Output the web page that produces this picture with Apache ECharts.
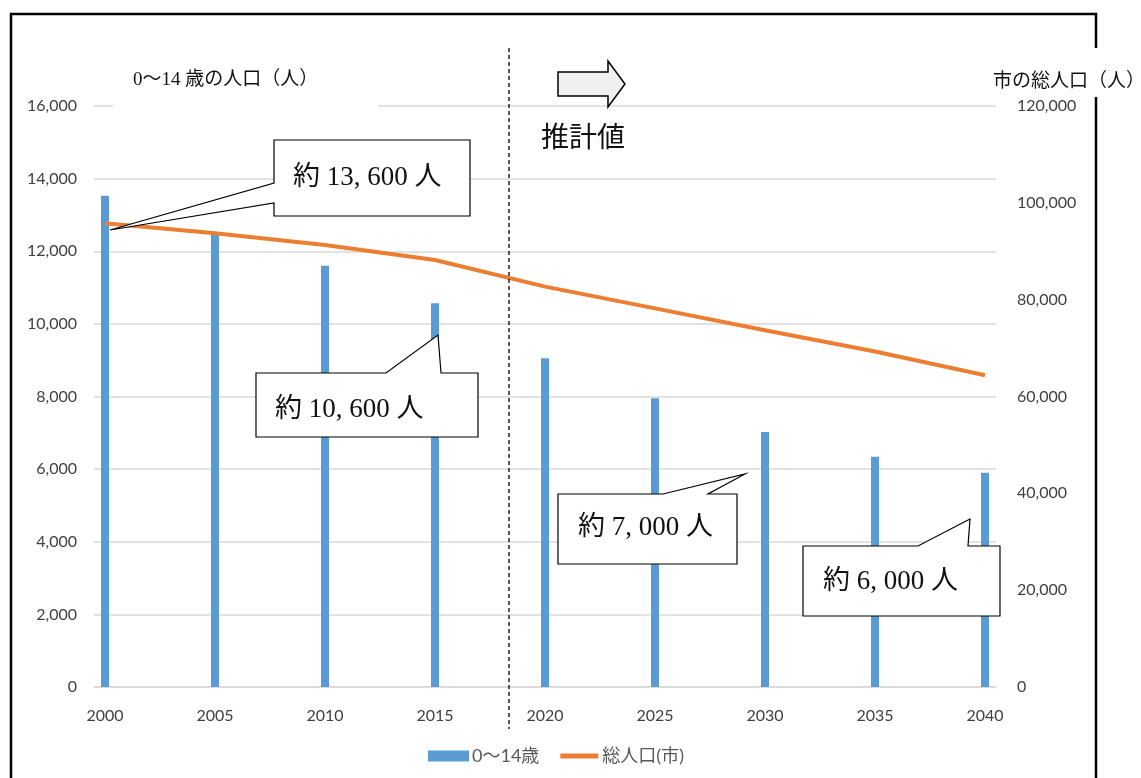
<!DOCTYPE html>
<html>
<head>
<meta charset="utf-8">
<script src="https://cdn.jsdelivr.net/npm/echarts@6.0.0/dist/echarts.min.js"></script>
<style>
  html, body { margin: 0; padding: 0; background: #fff; }
  #chart { width: 1141px; height: 778px; }
</style>
</head>
<body>
<div id="chart"></div>
<script>
// census / projection years (bars + line points)
const pointYears = [2000, 2005, 2010, 2015, 2020, 2025, 2030, 2035, 2040];
const children = [13530, 12500, 11600, 10570, 9050, 7950, 7020, 6340, 5900];
const totalPop = [95800, 93700, 91300, 88200, 82700, 78200, 73700, 69300, 64400];
const leftTicks = [0, 16000, 2000];
const rightTicks = [0, 120000, 20000];

// yearly category axis 2000..2040
const years = [];
for (let y = 2000; y <= 2040; y++) years.push(String(y));

const barData = years.map((y) => {
  const i = pointYears.indexOf(+y);
  return i >= 0 ? children[i] : null;
});
const lineData = years.map((y) => {
  const i = pointYears.indexOf(+y);
  return i >= 0 ? totalPop[i] : null;
});

const axisFont = 'Lato, "Noto Sans CJK JP", sans-serif';
const minchoFont = '"Liberation Serif", "Noto Sans CJK JP", serif';

function callout(points, text, tx, ty) {
  return [
    {
      type: "polygon",
      z: 100,
      shape: { points },
      style: { fill: "#fff", stroke: "#000", lineWidth: 1.2 },
    },
    {
      type: "text",
      z: 101,
      x: tx,
      y: ty,
      style: {
        text,
        fill: "#111",
        font: "27px " + minchoFont,
        textAlign: "left",
        textVerticalAlign: "middle",
      },
    },
  ];
}

const chart = echarts.init(document.getElementById("chart"));

const option = {
  backgroundColor: "#fff",
  animation: false,
  grid: { left: 94, right: 145, top: 106, bottom: 91 },
  legend: {
    left: 423,
    top: 742,
    itemWidth: 41,
    itemHeight: 11,
    itemGap: 20,
    textStyle: { color: "#595959", fontSize: 18, fontFamily: axisFont, padding: [0, 0, 0, -2] },
    data: [
      { name: "0～14歳", icon: "rect" },
      { name: "総人口(市)", icon: "path://M0,0 M0,11 M1,3 L39,3 L39,8 L1,8 Z" },
    ],
  },
  xAxis: {
    type: "category",
    data: years,
    boundaryGap: true,
    axisLine: { lineStyle: { color: "#d9d9d9", width: 1.5 } },
    axisTick: { interval: 4, length: 5, lineStyle: { color: "#d9d9d9", width: 1.5 } },
    axisLabel: {
      interval: 4,
      color: "#404040",
      fontSize: 16,
      fontFamily: axisFont,
      margin: 21,
    },
  },
  yAxis: [
    {
      type: "value",
      min: leftTicks[0],
      max: leftTicks[1],
      interval: leftTicks[2],
      axisLine: { show: false },
      axisTick: { show: false },
      axisLabel: {
        color: "#404040",
        fontSize: 16,
        fontFamily: axisFont,
        margin: 17,
        formatter: (v) => v.toLocaleString("en-US"),
      },
      splitLine: { lineStyle: { color: "#d9d9d9", width: 1.5 } },
    },
    {
      type: "value",
      min: rightTicks[0],
      max: rightTicks[1],
      interval: rightTicks[2],
      axisLine: { show: false },
      axisTick: { show: false },
      axisLabel: {
        color: "#404040",
        fontSize: 16,
        fontFamily: axisFont,
        margin: 21,
        formatter: (v) => v.toLocaleString("en-US"),
      },
      splitLine: { show: false },
    },
  ],
  series: [
    {
      name: "0～14歳",
      type: "bar",
      data: barData,
      barWidth: 8,
      itemStyle: { color: "#5b9bd5" },
    },
    {
      name: "総人口(市)",
      type: "line",
      yAxisIndex: 1,
      data: lineData,
      connectNulls: true,
      symbol: "none",
      lineStyle: { color: "#ed7d31", width: 4 },
      itemStyle: { color: "#ed7d31" },
      z: 3,
    },
  ],
  graphic: {
    elements: [
      // outer frame
      {
        type: "polyline",
        z: 50,
        shape: { points: [[11, 778], [11, 14], [1096, 14], [1096, 48]] },
        style: { stroke: "#000", lineWidth: 2.5, fill: null },
      },
      {
        type: "line",
        z: 50,
        shape: { x1: 1096, y1: 97, x2: 1096, y2: 778 },
        style: { stroke: "#000", lineWidth: 2.5 },
      },
      // axis title boxes
      {
        type: "rect",
        z: 60,
        shape: { x: 113, y: 98, width: 265, height: 14 },
        style: { fill: "#fff" },
      },
      {
        type: "text",
        z: 61,
        x: 133,
        y: 80,
        style: {
          text: "0～14 歳の人口（人）",
          fill: "#111",
          font: "19px " + minchoFont,
          textAlign: "left",
          textVerticalAlign: "middle",
        },
      },
      {
        type: "text",
        z: 61,
        x: 993,
        y: 82,
        style: {
          text: "市の総人口（人）",
          fill: "#111",
          font: "19px " + minchoFont,
          textAlign: "left",
          textVerticalAlign: "middle",
        },
      },
      // projection divider
      {
        type: "line",
        z: 90,
        shape: { x1: 509, y1: 48, x2: 509, y2: 729 },
        style: { stroke: "#000", lineWidth: 1.3, lineDash: [4, 3] },
      },
      {
        type: "polygon",
        z: 90,
        shape: {
          points: [[558, 72], [608, 72], [608, 61], [625, 84], [608, 107], [608, 96], [558, 96]],
        },
        style: { fill: "#f0f0f0", stroke: "#000", lineWidth: 1.5 },
      },
      {
        type: "text",
        z: 90,
        x: 541,
        y: 140,
        style: {
          text: "推計値",
          fill: "#111",
          font: "28px " + minchoFont,
          textAlign: "left",
          textVerticalAlign: "middle",
        },
      },
      ...callout(
        [[274, 140], [470, 140], [470, 216], [274, 216], [274, 203], [110, 230], [274, 183]],
        "約 13, 600 人", 293, 178
      ),
      ...callout(
        [[256, 373], [386, 373], [438, 335], [441, 373], [478, 373], [478, 437], [256, 437]],
        "約 10, 600 人", 275, 410
      ),
      ...callout(
        [[558, 494], [663, 494], [745, 474], [708, 494], [737, 494], [737, 564], [558, 564]],
        "約 7, 000 人", 578, 528
      ),
      ...callout(
        [[803, 546], [918, 546], [970, 519], [968, 546], [1000, 546], [1000, 616], [803, 616]],
        "約 6, 000 人", 823, 582
      ),
    ],
  },
};

chart.setOption(option);
</script>
</body>
</html>
